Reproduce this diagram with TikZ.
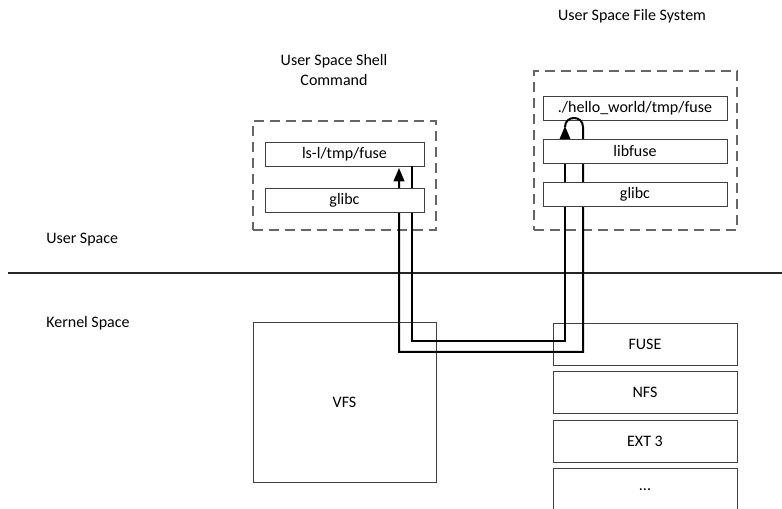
\documentclass[tikz,border=0pt]{standalone}
\usepackage{fontspec}
\setmainfont{Carlito}
\usetikzlibrary{positioning, calc, arrows.meta}

\begin{document}
\begin{tikzpicture}[x=0.75pt, y=-0.75pt, font=\fontsize{12}{14.4}\selectfont,
  layer/.style={draw=black!75, rectangle, minimum width=138pt, minimum height=18pt, inner sep=0pt, fill=white},
  group/.style={draw=black!60, rectangle, dash pattern=on 7.5pt off 4.5pt, line width=0.9pt, inner sep=0pt},
  fsbox/.style={draw=black!75, rectangle, minimum width=138pt, minimum height=31.5pt, inner sep=0pt, fill=white},
  conn/.style={line width=1.5pt, -{Triangle[length=10pt, width=8pt]}}]
\useasboundingbox (0,0) rectangle (782,509);

% User / kernel split
\draw[black!85, line width=0.8pt] (8,273) -- (782,273);
\node[anchor=west, inner sep=0pt] (userlbl) at (46,240) {User Space};
\node[anchor=west, inner sep=0pt] (kernlbl) at (46,323) {Kernel Space};

% Shell command side
\node[group, minimum width=137.25pt, minimum height=81.75pt] (shell) at (344.5,175.5) {};
\node[align=center, inner sep=0pt] (shelllbl) at (334,70) {User Space Shell\\Command};
\node[layer, minimum width=119.25pt] (ls) at (344.5,154) {ls-l/tmp/fuse};

% File system side
\node[group, minimum width=152.25pt, minimum height=119.25pt] (ufs) at (635.5,150.5) {};
\node[inner sep=0pt] (ufslbl) at (632,16) {User Space File System};
\node[layer] (hello) at (635,108) {./hello\_world/tmp/fuse};

% Kernel side
\node[fsbox, minimum width=137.25pt, minimum height=120pt] (vfs) at (344.5,402) {VFS};
\node[fsbox] (fuse) at (645,344) {FUSE};
\node[fsbox, below=4.5pt of fuse] (nfs) {NFS};
\node[fsbox, below=4.5pt of nfs] (ext) {EXT 3};
\node[fsbox, below=4.5pt of ext] (more) {...};

% Request path and reply path
\coordinate (reqout) at ($(ls.south east)+(-12,0)$);
\coordinate (reqbend) at (565,341);
\coordinate (reqin) at (565,126);
\coordinate (repout) at (583,127);
\coordinate (repbend) at (399,352);
\coordinate (repin) at (399,168);
\draw[conn] (reqout) |- (reqbend) -- (reqin);
\draw[conn] (reqin) -- (565,127) .. controls (565,115) and (583,115) .. (repout) |- (repbend) -- (repin);

% Lower layers sit on top of the lines
\node[layer, minimum width=119.25pt] (glibcl) at (344.5,200) {glibc};
\node[layer] (libfuse) at (635,151) {libfuse};
\node[layer] (glibcr) at (635,194) {glibc};
\end{tikzpicture}
\end{document}
